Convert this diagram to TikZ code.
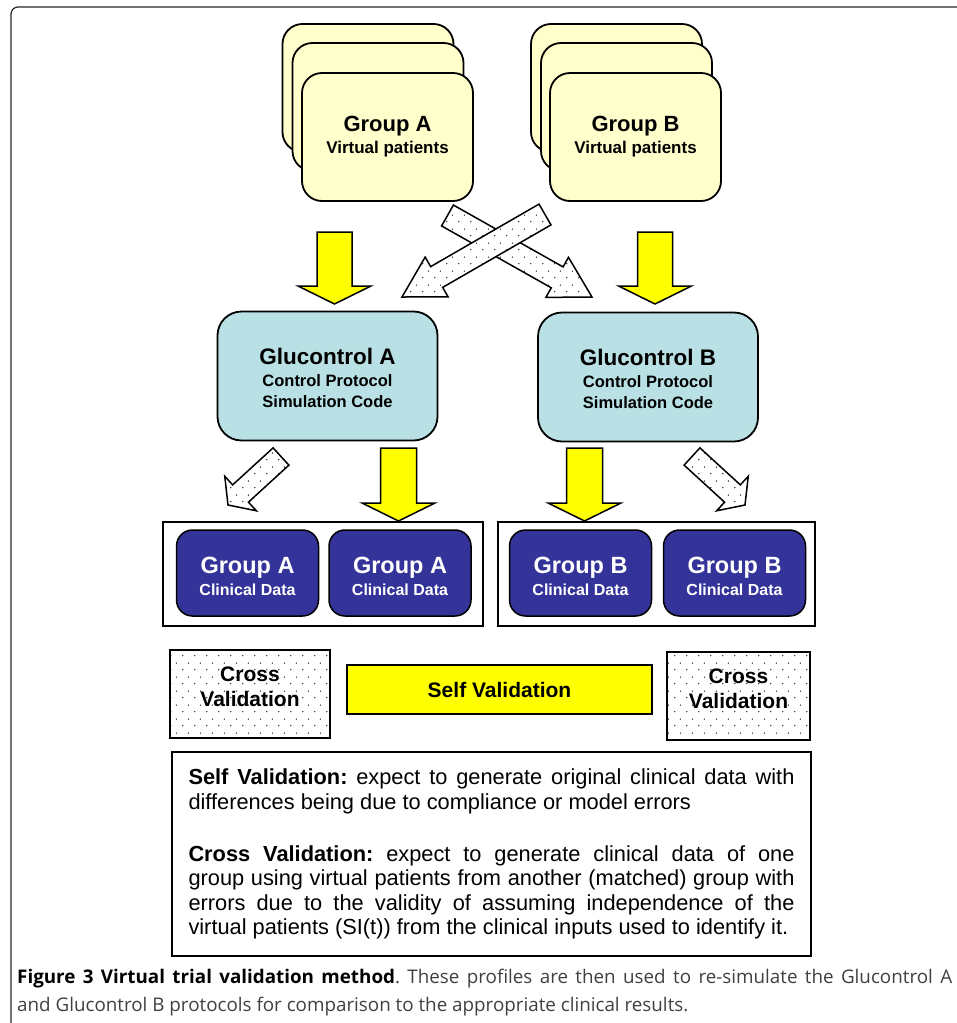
\documentclass[tikz,border=0pt]{standalone}
\usepackage{fontspec}
\setmainfont{Liberation Sans}
\newfontfamily\capfont{Open Sans}
\usetikzlibrary{calc,patterns.meta}
\setlength{\parindent}{0pt}
\frenchspacing

\definecolor{vpyellow}{RGB}{255,255,204}
\definecolor{glucyan}{RGB}{185,224,228}
\definecolor{clinblue}{RGB}{51,51,153}
\definecolor{arryellow}{RGB}{255,255,0}

\tikzdeclarepattern{
  name=sparse dots,
  type=uncolored,
  bottom left={(0pt,0pt)},
  top right={(12pt,14pt)},
  tile size={(12pt,14pt)},
  code={
    \fill (3pt,3.5pt) circle (0.75pt);
    \fill (9pt,10.5pt) circle (0.75pt);
  }
}

% block arrow: [style]{tail}{tip}{half shaft}{half head}{head length}
\newcommand{\fatarrow}[6][]{%
  \draw[#1] let \p1=($(#3)-(#2)$), \n1={atan2(\y1,\x1)}, \n2={veclen(\x1,\y1)} in
    ($(#2)+(\n1+90:#4)$) -- ($(#2)+(\n1:\n2-#6)+(\n1+90:#4)$)
    -- ($(#2)+(\n1:\n2-#6)+(\n1+90:#5)$) -- (#3)
    -- ($(#2)+(\n1:\n2-#6)+(\n1-90:#5)$) -- ($(#2)+(\n1:\n2-#6)+(\n1-90:#4)$)
    -- ($(#2)+(\n1-90:#4)$) -- cycle;}

\begin{document}
\begin{tikzpicture}[x=1pt, y=-1pt,
  vp/.style={draw, line width=1.8pt, rounded corners=20pt, fill=vpyellow, minimum width=171pt, minimum height=128pt, inner sep=0pt, align=center, font=\bfseries\fontsize{17}{22}\selectfont},
  glu/.style={draw, line width=1.8pt, rounded corners=24pt, fill=glucyan, minimum width=220pt, minimum height=129pt, inner sep=0pt, align=center, font=\bfseries\fontsize{16.5}{21.5}\selectfont},
  clin/.style={draw, line width=1.5pt, rounded corners=16pt, fill=clinblue, text=white, minimum width=142pt, minimum height=86pt, inner sep=0pt, align=center, font=\bfseries\fontsize{16}{22}\selectfont},
  clinframe/.style={draw, line width=1.2pt, minimum height=104pt, inner sep=0pt},
  crossv/.style={draw, line width=1.5pt, preaction={fill=white}, pattern=sparse dots, minimum height=88pt, inner sep=0pt, align=center, font=\bfseries\fontsize{21}{25}\selectfont},
  selfv/.style={draw, line width=1.5pt, fill=arryellow, minimum width=305pt, minimum height=49pt, inner sep=0pt, font=\bfseries\fontsize{21}{25}\selectfont},
  desc/.style={draw, line width=1.2pt, minimum width=639pt, minimum height=204pt, inner xsep=16.5pt, text width=606pt, align=justify, font=\fontsize{21.8}{24.5}\selectfont},
  yarr/.style={draw, line width=1.5pt, fill=arryellow},
  darr/.style={draw, line width=1.5pt, preaction={fill=white}, pattern=sparse dots}
]
\useasboundingbox (0,0) rectangle (957,1023);
\draw[line width=1.2pt, black!85, rounded corners=7pt] (957,7) -| (11,1023);

% virtual patient stacks
\node[vp] (vpA3) at (368,88) {};
\node[vp] (vpA2) at (378,107) {};
\node[vp] (vpA) at (387.5,137) {{\fontsize{22}{22}\selectfont Group A}\\Virtual patients};
\node[vp] (vpB3) at (616.5,88) {};
\node[vp] (vpB2) at (626.5,107) {};
\node[vp] (vpB) at (635.5,137) {{\fontsize{22}{22}\selectfont Group B}\\Virtual patients};

% control protocols
\node[glu] (gluA) at (327.5,376) {\rule{0pt}{20.5pt}{\fontsize{22.5}{22}\selectfont Glucontrol A}\\Control Protocol\\Simulation Code};
\node[glu] (gluB) at (648,377) {\rule{0pt}{20.5pt}{\fontsize{22.5}{22}\selectfont Glucontrol B}\\Control Protocol\\Simulation Code};

% clinical data
\node[clinframe, minimum width=320pt] (cdA) at (323,574) {};
\node[clinframe, minimum width=317pt] (cdB) at (656.5,574) {};
\node[clin] (clinA1) at (247.5,573) {\rule{0pt}{24pt}{\fontsize{23.5}{22}\selectfont Group A}\\Clinical Data};
\node[clin] (clinA2) at (400,573) {\rule{0pt}{24pt}{\fontsize{23.5}{22}\selectfont Group A}\\Clinical Data};
\node[clin] (clinB1) at (580.5,573) {\rule{0pt}{24pt}{\fontsize{23.5}{22}\selectfont Group B}\\Clinical Data};
\node[clin] (clinB2) at (734.5,573) {\rule{0pt}{24pt}{\fontsize{23.5}{22}\selectfont Group B}\\Clinical Data};

% validation legend
\node[crossv, minimum width=160pt] (crossA) at (250,694) {Cross\\Validation\rule[-14pt]{0pt}{14pt}};
\node[selfv] (self) at (499.5,689.5) {Self Validation};
\node[crossv, minimum width=143pt] (crossB) at (738.5,696) {Cross\\Validation\rule[-14pt]{0pt}{14pt}};

% arrow ends
\coordinate (vpAtail) at (334.5,232);
\coordinate (gluAtip) at (334.5,304);
\coordinate (vpBtail) at (655,232);
\coordinate (gluBtip) at (655,304);
\coordinate (xAtail) at (447.5,215.5);
\coordinate (xAtip) at (592,297);
\coordinate (xBtail) at (545,214.5);
\coordinate (xBtip) at (402,297);
\coordinate (selfAtail) at (398.5,448);
\coordinate (selfAtip) at (398.5,521);
\coordinate (selfBtail) at (584.5,448);
\coordinate (selfBtip) at (584.5,521);
\coordinate (crossAtail) at (281,456.5);
\coordinate (crossAtip) at (228,505);
\coordinate (crossBtail) at (692,456.5);
\coordinate (crossBtip) at (745,505);

\fatarrow[yarr]{vpAtail}{gluAtip}{17.5pt}{36.5pt}{18pt}
\fatarrow[yarr]{vpBtail}{gluBtip}{17.5pt}{36.5pt}{18pt}
\fatarrow[darr]{xAtail}{xAtip}{12pt}{23pt}{40pt}
\fatarrow[darr]{xBtail}{xBtip}{12pt}{23pt}{40pt}
\fatarrow[yarr]{selfAtail}{selfAtip}{18pt}{36.5pt}{18pt}
\fatarrow[yarr]{selfBtail}{selfBtip}{18pt}{36.5pt}{18pt}
\fatarrow[darr]{crossAtail}{crossAtip}{11.7pt}{23.4pt}{17pt}
\fatarrow[darr]{crossBtail}{crossBtip}{11.7pt}{23.4pt}{17pt}

% explanation
\node[desc] (expl) at (491.5,854) {\textbf{Self Validation:} expect to generate original clinical data with\linebreak differences being due to compliance or model errors\par\vspace{27.5pt}\textbf{Cross Validation:} expect to generate clinical data of one\linebreak group using virtual patients from another (matched) group with\linebreak errors due to the validity of assuming independence of the\linebreak virtual patients (SI(t)) from the clinical inputs used to identify it.};

% caption
\node[anchor=north west, inner sep=0pt, text width=935pt, align=justify, font=\capfont\fontsize{18.8}{28}\selectfont, text=black!75] (cap) at (17,968.5) {{\bfseries\color{black}Figure 3 Virtual trial validation method}. These profiles are then used to re-simulate the Glucontrol A\linebreak and Glucontrol B protocols for comparison to the appropriate clinical results.};
\end{tikzpicture}
\end{document}
